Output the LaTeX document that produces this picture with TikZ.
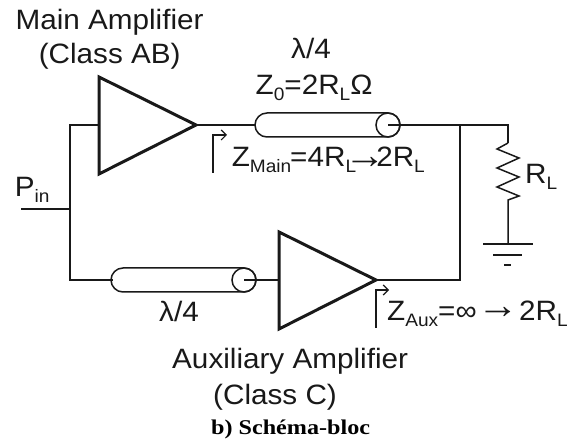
\documentclass[tikz,border=0pt]{standalone}
\usepackage{fontspec}
\usepackage{graphicx}
\usetikzlibrary{arrows.meta}
\setmainfont{Liberation Sans}
\newfontfamily\serifbold{Liberation Serif}
\newcommand{\wideit}[1]{\scalebox{1.06}[1]{#1}}
\newcommand{\sbs}[1]{\raisebox{-6pt}{\fontsize{18}{19}\selectfont #1}}
\newcommand{\bigarrow}[1]{\raisebox{#1}{\scalebox{1.4}{→}}}
\begin{document}
\begin{tikzpicture}[x=1pt,y=-1pt,
  wire/.style={line width=1.9pt,black!90},
  thinwire/.style={line width=1.5pt,black!90},
  amp/.style={line width=3pt,line join=miter,black!90},
  lbl/.style={font=\fontsize{28}{30}\selectfont,inner sep=0pt,anchor=base west,text=black!90},
  clbl/.style={font=\fontsize{28}{30}\selectfont,inner sep=0pt,anchor=base,text=black!90},
  sense/.style={line width=1.2pt,-{Straight Barb[length=5pt,width=10pt]},black!90}]
\useasboundingbox (0,0) rectangle (576,446);
% connection points
\coordinate (pin) at (21,209);
\coordinate (ltop) at (70,125);
\coordinate (lmid) at (70,209);
\coordinate (lbot) at (70,280);
\coordinate (a1in) at (99,125);
\coordinate (a1out) at (196,125);
\coordinate (tl1l) at (255,125);
\coordinate (tl1c) at (388,125);
\coordinate (j) at (460,125);
\coordinate (rt) at (508,125);
\coordinate (rtop) at (508,143);
\coordinate (rbot) at (508,200);
\coordinate (gnd) at (508,244);
\coordinate (jb) at (460,280);
\coordinate (a2in) at (279,280);
\coordinate (a2out) at (376,280);
\coordinate (tl2l) at (112,280);
\coordinate (tl2c) at (244,280);
% amplifiers
\draw[amp,fill=white] (99,77) -- (196,125) -- (99,174) -- cycle;
\draw[amp,fill=white] (279,232) -- (376,280) -- (279,329) -- cycle;
% wires
\draw[wire] (pin) -- (lmid);
\draw[wire,line cap=rect] (a1in) -- (ltop) -- (lbot) -- (tl2l);
\draw[wire] (a1out) -- (tl1l);
\draw[wire] (tl1c) -- (rt) -- (rtop);
\draw[wire,line width=2.4pt] (j) -- (jb) -- (a2out);
\draw[wire] (tl2c) -- (a2in);
% transmission lines
\draw[thinwire] (267,113) -- (388,113) arc[start angle=-90,end angle=90,radius=12] -- (267,137) arc[start angle=90,end angle=270,radius=12] -- cycle;
\draw[thinwire] (tl1c) circle[radius=12];
\draw[thinwire] (123,268) -- (244,268) arc[start angle=-90,end angle=90,radius=12] -- (123,292) arc[start angle=90,end angle=270,radius=12] -- cycle;
\draw[thinwire] (tl2c) circle[radius=12];
% load
\draw[thinwire,line join=miter] (rtop) -- (497,149) -- (519,158) -- (497,168) -- (519,177) -- (497,187) -- (519,196) -- (rbot) -- (gnd);
\draw[thinwire] (483,244) -- (533,244);
\draw[thinwire] (493,255) -- (522,255);
\draw[thinwire] (504,265) -- (511,265);
% sense arrows
\draw[sense] (213,173) -- (213,135) -- (227,135);
\draw[sense] (376,328) -- (376,290) -- (389,290);
% labels
\node[lbl] (tmain) at (15.4,29.5) {\wideit{Main Amplifier}};
\node[lbl] (tmainc) at (38.6,64) {\wideit{(Class AB)}};
\node[clbl] (lam1) at (311,59) {\wideit{λ/4}};
\node[lbl] (z0) at (255.5,95) {\wideit{Z\sbs{0}=2R\sbs{L}Ω}};
\node[lbl] (zmain) at (231.6,167) {\wideit{Z\sbs{Main}\kern-1pt=4R\sbs{L}\kern-10.6pt\bigarrow{-1.5pt}\kern-9.6pt2R\sbs{L}}};
\node[lbl] (rl) at (525,184) {\wideit{R\sbs{L}}};
\node[lbl] (pinl) at (14.7,196.7) {\wideit{P\sbs{in}}};
\node[clbl] (lam2) at (179,321.7) {\wideit{λ/4}};
\node[lbl] (zaux) at (387,321) {\wideit{Z\sbs{Aux}=∞\kern0.4pt\bigarrow{2pt}\kern0.4pt2R\sbs{L}}};
\node[lbl] (taux) at (172,369) {\wideit{Auxiliary Amplifier}};
\node[lbl] (tauxc) at (213,405) {\wideit{(Class C)}};
\node[inner sep=0pt,anchor=base,font=\fontsize{21}{22}\selectfont\serifbold\bfseries] (cap) at (290.6,435) {\scalebox{1.15}[1]{b) Schéma-bloc}};
\end{tikzpicture}
\end{document}
